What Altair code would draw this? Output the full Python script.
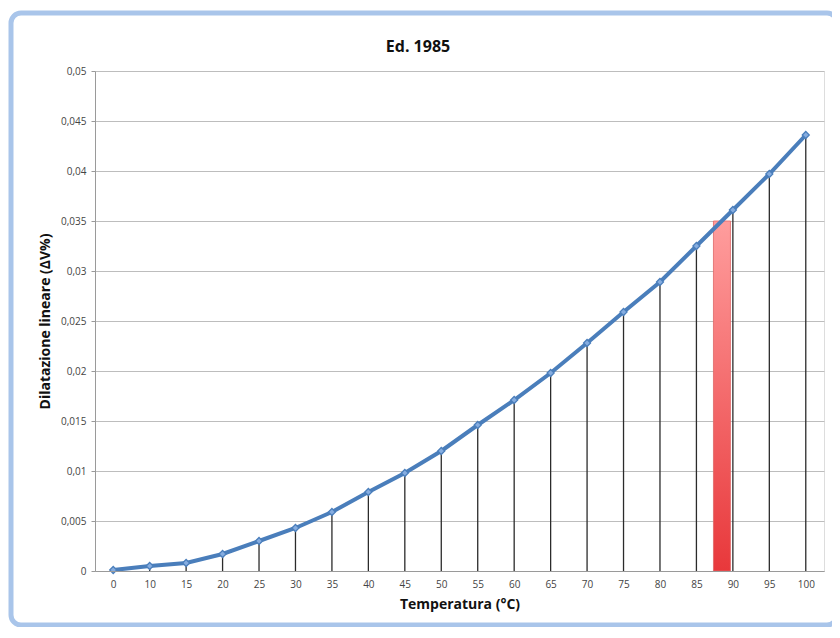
import altair as alt
import numpy as np
import pandas as pd

# Data
temps = [0, 10, 15, 20, 25, 30, 35, 40, 45, 50, 55, 60, 65, 70, 75, 80, 85, 90, 95, 100]
values = [0.0001, 0.0005, 0.0008, 0.0017, 0.0030, 0.0043, 0.0059, 0.0079, 0.0098, 0.0120,
          0.0146, 0.0171, 0.0198, 0.0228, 0.0259, 0.0289, 0.0325, 0.0361, 0.0397, 0.0436]
bar_temp = [88.5]
bar_value = [0.035]

idx = list(range(len(temps)))
df = pd.DataFrame({"idx": idx, "temp": temps, "val": values, "zero": [0.0] * len(temps)})
bar_df = pd.DataFrame({"idx": [float(np.interp(t, temps, idx)) for t in bar_temp],
                       "val": bar_value, "zero": [0.0] * len(bar_value)})

label_arr = "[" + ",".join("'%s'" % t for t in temps) + "]"

W, H = 729, 500
xscale = alt.Scale(domain=[-0.5, len(temps) - 0.5], nice=False, zero=False, padding=0)
yscale = alt.Scale(domain=[0, 0.05], nice=False, padding=0)

x_enc = alt.X("idx:Q", scale=xscale,
              axis=alt.Axis(values=idx, labelExpr=label_arr + "[datum.value]",
                            title="Temperatura (°C)", grid=False, ticks=False,
                            labelFontSize=10, labelColor="#444", labelFont="Open Sans",
                            labelPadding=8, domainColor="#9a9a9a", zindex=1,
                            titleFont="Open Sans", titleFontSize=14, titleFontWeight="bold",
                            titleColor="#111", titlePadding=8))
y_enc = alt.Y("val:Q", scale=yscale,
              axis=alt.Axis(values=[i * 0.005 for i in range(11)],
                            labelExpr="replace(format(datum.value, '.3~f'), '.', ',')",
                            title="Dilatazione lineare (ΔV%)", grid=True, gridColor="#bdbdbd",
                            tickColor="#9a9a9a", tickSize=4, domainColor="#9a9a9a",
                            labelFontSize=10, labelColor="#444", labelFont="Open Sans",
                            labelPadding=5,
                            titleFont="Open Sans", titleFontSize=14, titleFontWeight="bold",
                            titleColor="#111", titleX=-50, titleY=H / 2,
                            titleAlign="center", titleBaseline="middle"))

frame = alt.Chart(pd.DataFrame({"a": [0]})).mark_rect(
    fillOpacity=0, stroke="#a9c5ea", strokeWidth=5, cornerRadius=10
).encode(x=alt.value(-84), x2=alt.value(W + 13), y=alt.value(-58), y2=alt.value(H + 54))

title = alt.Chart(pd.DataFrame({"t": ["Ed. 1985"]})).mark_text(
    font="Open Sans", fontSize=16, fontWeight="bold", color="#111",
    align="center", baseline="middle"
).encode(text="t:N", x=alt.value(418 - 95), y=alt.value(47 - 71))

bar = alt.Chart(bar_df).mark_bar(
    size=17,
    stroke="#e06666", strokeWidth=0.8,
    color=alt.Gradient(gradient="linear",
                       stops=[alt.GradientStop(color="#ff9d9d", offset=0),
                              alt.GradientStop(color="#e8383b", offset=1)],
                       x1=0, x2=0, y1=0, y2=1)
).encode(x=x_enc, y=y_enc, y2="zero:Q")

drops = alt.Chart(df).mark_rule(color="#2b2b2b", strokeWidth=1.3).encode(
    x=x_enc, y=y_enc, y2="zero:Q")

line = alt.Chart(df).mark_line(color="#4a7ebb", strokeWidth=4).encode(x=x_enc, y=y_enc)

points = alt.Chart(df).mark_point(
    shape="diamond", filled=True, fill="#86ade0", stroke="#4a7ebb", strokeWidth=1.2,
    size=50, opacity=1
).encode(x=x_enc, y=y_enc)

chart = alt.layer(frame, title, bar, drops, line, points).properties(
    width=W, height=H,
    autosize=alt.AutoSizeParams(type="none"),
    padding={"left": 87, "top": 63, "right": 8, "bottom": 56}
).configure_view(stroke=None).configure(background="white")

chart.save("out.html", embed_options={"renderer": "svg", "actions": False})
